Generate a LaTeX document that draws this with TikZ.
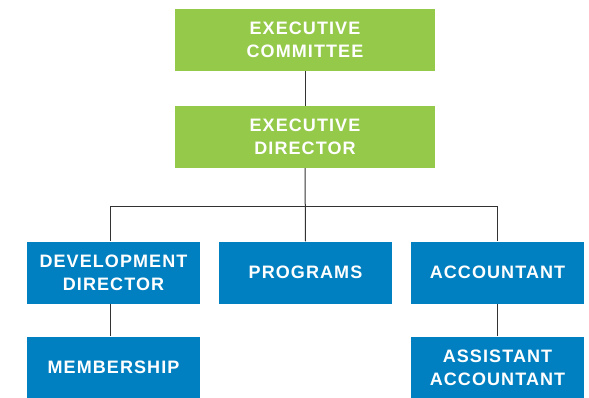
\documentclass[tikz,border=0pt]{standalone}
\usepackage{fontspec}
\setmainfont{Liberation Sans}[LetterSpace=6]
\definecolor{boxgreen}{HTML}{95C94A}
\definecolor{boxblue}{HTML}{0080C0}
\definecolor{linegray}{HTML}{333333}
\begin{document}
\begin{tikzpicture}[x=1pt,y=-1pt,
  gbox/.style={fill=boxgreen, minimum width=260pt, minimum height=62pt, inner sep=0pt, text=white, font=\bfseries\fontsize{18}{23}\selectfont, align=center},
  bbox/.style={fill=boxblue, minimum width=173pt, minimum height=62pt, inner sep=0pt, text=white, font=\bfseries\fontsize{18}{23}\selectfont, align=center},
  conn/.style={draw=linegray, line width=1pt}]
\useasboundingbox (0,0) rectangle (589,397);
\node[gbox] (ec) at (305,40) {EXECUTIVE\\COMMITTEE};
\node[gbox] (ed) at (305,137) {EXECUTIVE\\DIRECTOR};
\node[bbox] (dd) at (113.5,272.5) {DEVELOPMENT\\DIRECTOR};
\node[bbox] (pr) at (305.5,272.5) {PROGRAMS};
\node[bbox] (ac) at (497.5,272.5) {ACCOUNTANT};
\node[bbox] (me) at (113.5,367.5) {MEMBERSHIP};
\node[bbox] (aa) at (497.5,367.5) {ASSISTANT\\ACCOUNTANT};
\coordinate (bus) at (305,206);
\draw[conn] (ec.south) -- (ed.north);
\draw[conn] (ed.south) -- (pr.north);
\draw[conn] (bus) -| ([xshift=-3.5pt]dd.north);
\draw[conn] (bus) -| (ac.north);
\draw[conn] ([xshift=-3.5pt]dd.south) -- ([xshift=-3.5pt]me.north);
\draw[conn] (ac.south) -- (aa.north);
\end{tikzpicture}
\end{document}
